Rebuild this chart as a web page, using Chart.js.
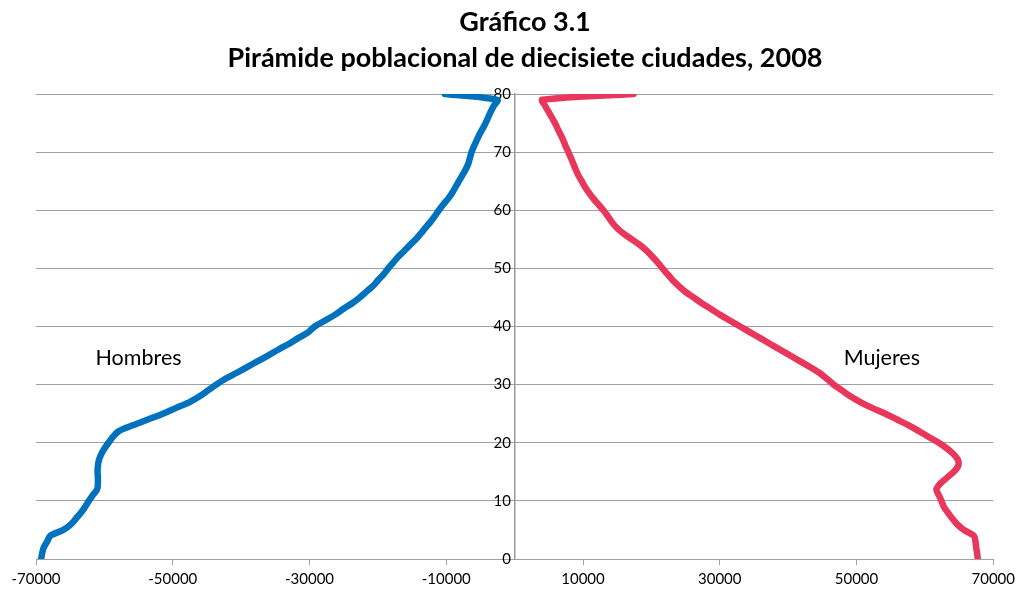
<!DOCTYPE html>
<html>
<head>
<meta charset="utf-8">
<script src="https://cdn.jsdelivr.net/npm/chart.js@4/dist/chart.umd.min.js"></script>
<style>
html,body{margin:0;padding:0;background:#fff;}
#wrap{width:1020px;height:593px;position:relative;}
</style>
</head>
<body>
<div id="wrap"><canvas id="c" width="1020" height="593"></canvas></div>
<script>
const titleLines = ["Gráfico 3.1", "Pirámide poblacional de diecisiete ciudades, 2008"];
const ages = [];
for (let a = 0; a <= 80; a++) ages.push(a);
const hombres = [
 -69250,-69100,-68860,-68370,-67900,-66000,-64860,-64130,-63400,-62810,
 -62270,-61690,-61050,-60950,-60950,-61000,-60950,-60800,-60470,-59990,
 -59400,-58760,-57880,-55830,-53630,-51440,-49490,-47540,-46070,-44850,
 -43630,-42310,-40700,-39140,-37630,-36060,-34600,-33050,-31670,-30210,
 -29240,-27770,-26310,-25080,-23760,-22650,-21670,-20690,-19960,-19140,
 -18490,-17760,-17030,-16150,-15330,-14450,-13720,-13030,-12300,-11670,
 -11080,-10440,-9710,-9120,-8640,-8150,-7660,-7170,-6780,-6540,
 -6300,-5950,-5560,-5170,-4690,-4250,-3860,-3470,-3030,-2530,
 -10200
];
const mujeres = [
 67740,67640,67500,67400,67160,65690,64710,63980,63350,62760,
 62420,62030,61690,62270,63250,64230,64860,64860,64230,63250,
 62030,60570,59110,57640,55930,54220,52270,50560,49100,47880,
 46660,45680,44610,43240,41770,40310,38840,37380,35920,34450,
 32990,31530,30060,28740,27380,26160,24940,23970,23090,22360,
 21620,20940,20160,19330,18350,17130,15910,14930,14200,13620,
 12980,12250,11520,10880,10290,9810,9320,8930,8590,8240,
 7860,7470,7130,6730,6300,5900,5420,4930,4440,4050,
 17380
];
const seriesNames = ["Hombres", "Mujeres"];
const seriesLabelPos = [[-55000, 34.6], [53700, 34.6]];
const xTicks = [-70000,-50000,-30000,-10000,10000,30000,50000,70000];
const yTicks = [0,10,20,30,40,50,60,70,80];

const FONT = "Lato, 'Liberation Sans', sans-serif";
const GRID = '#a0a0a0';

const seriesLabels = {
  id: 'seriesLabels',
  afterDatasetsDraw(chart) {
    const {ctx, scales:{x, y}} = chart;
    ctx.save();
    ctx.font = "21.5px " + FONT;
    ctx.fillStyle = "#000";
    ctx.textAlign = "center";
    ctx.textBaseline = "middle";
    seriesNames.forEach((n, i) => {
      ctx.fillText(n, x.getPixelForValue(seriesLabelPos[i][0]), y.getPixelForValue(seriesLabelPos[i][1]));
    });
    ctx.restore();
  }
};

const titlePlugin = {
  id: 'titleBlock',
  afterDraw(chart) {
    const {ctx} = chart;
    ctx.save();
    ctx.font = "bold 27px " + FONT;
    ctx.fillStyle = "#000";
    ctx.textAlign = "center";
    ctx.textBaseline = "middle";
    ctx.fillText(titleLines[0], 525, 22);
    ctx.fillText(titleLines[1], 525, 58);
    ctx.restore();
  }
};

new Chart(document.getElementById('c'), {
  type: 'scatter',
  data: {
    datasets: [
      {
        label: seriesNames[0],
        data: ages.map((a, i) => ({x: hombres[i], y: a})),
        yAxisID: 'y',
        showLine: true,
        borderColor: '#0071BC',
        backgroundColor: '#0071BC',
        borderWidth: 6.5,
        pointRadius: 0,
        tension: 0.3,
        borderCapStyle: 'round',
        borderJoinStyle: 'round'
      },
      {
        label: seriesNames[1],
        data: ages.map((a, i) => ({x: mujeres[i], y: a})),
        yAxisID: 'y',
        showLine: true,
        borderColor: '#E8375B',
        backgroundColor: '#E8375B',
        borderWidth: 6.5,
        pointRadius: 0,
        tension: 0.3,
        borderCapStyle: 'round',
        borderJoinStyle: 'round'
      }
    ]
  },
  options: {
    responsive: false,
    animation: false,
    events: [],
    layout: { padding: { left: 36, right: 25.5, top: 94, bottom: 0 } },
    plugins: {
      legend: { display: false },
      tooltip: { enabled: false },
      title: { display: false }
    },
    scales: {
      x: {
        type: 'linear',
        min: -70000, max: 70000,
        afterBuildTicks: s => { s.ticks = xTicks.map(v => ({value: v})); },
        ticks: { color: '#000', font: { family: FONT, size: 15 }, padding: 5, maxRotation: 0, autoSkip: false, callback: v => String(v) },
        grid: { drawOnChartArea: false, drawTicks: true, tickLength: 6, color: GRID },
        border: { color: GRID, width: 1 }
      },
      y: {
        type: 'linear',
        min: 0, max: 80,
        position: { x: 0 },
        afterBuildTicks: s => { s.ticks = yTicks.map(v => ({value: v})); },
        ticks: { display: false },
        grid: { color: GRID, lineWidth: 1, drawTicks: true, tickLength: 6 },
        border: { display: true, color: '#999999', width: 1.5 }
      },
      yLabels: {
        type: 'linear',
        axis: 'y',
        min: 0, max: 80,
        position: { x: -550 },
        afterBuildTicks: s => { s.ticks = yTicks.map(v => ({value: v})); },
        ticks: { color: '#000', font: { family: FONT, size: 15 }, callback: v => String(v) },
        grid: { display: false, drawTicks: false },
        border: { display: false }
      }
    }
  },
  plugins: [seriesLabels, titlePlugin]
});
</script>
</body>
</html>
